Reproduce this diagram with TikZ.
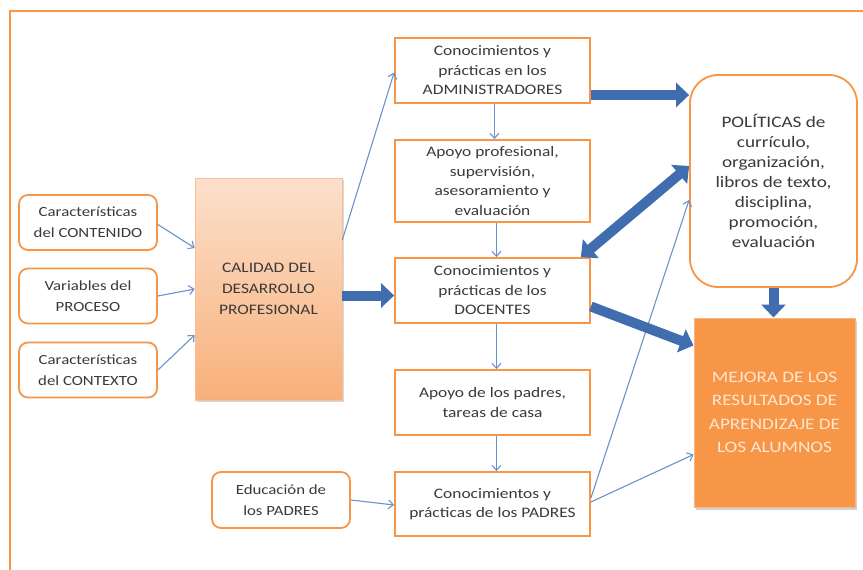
\documentclass[tikz,border=0pt]{standalone}
\usepackage{fontspec}
\setmainfont{Carlito}[FakeStretch=1.2]
\usetikzlibrary{arrows.meta,shadows}
\definecolor{obor}{HTML}{F79646}
\definecolor{thinc}{HTML}{6A93CB}
\definecolor{thickc}{HTML}{3F6DB0}
\definecolor{txt}{HTML}{3A3A3A}
\definecolor{calTop}{HTML}{FCE0CC}
\definecolor{calBot}{HTML}{F8B07A}
\definecolor{mejfill}{HTML}{F79646}
\definecolor{mejtxt}{HTML}{FDE6D4}
\begin{document}
\begin{tikzpicture}[x=1pt,y=-1pt,
  box/.style={draw=obor, line width=1.8pt, fill=white, text=txt, align=center, inner sep=2pt},
  lbox/.style={box, rounded corners=9pt, minimum width=138pt, minimum height=55pt, font=\fontsize{14}{21}\selectfont},
  mbox/.style={box, minimum width=195pt, minimum height=65pt, font=\fontsize{14.5}{19.5}\selectfont},
  thinarr/.style={draw=thinc, line width=1.1pt, -{Straight Barb[length=5pt,width=9pt]}},
  thickarr/.style={draw=thickc, line width=10pt, -{Triangle[length=13pt,width=24pt]}},
  dthickarr/.style={draw=thickc, line width=10pt, {Triangle[length=13pt,width=24pt]}-{Triangle[length=13pt,width=24pt]}}
]
\useasboundingbox (0,0) rectangle (863,570);
\fill[white] (0,0) rectangle (863,570);
% outer frame
\draw[obor, line width=2pt] (868,11) -- (10,11) -- (10,575);

% left boxes
\node[lbox] (cont) at (88,222.5) {Características\\del CONTENIDO};
\node[lbox] (proc) at (88,296) {Variables del\\PROCESO};
\node[lbox] (ctx) at (88,370) {Características\\del CONTEXTO};

% calidad
\node[draw=calBot!80!white, line width=0.6pt, top color=calTop, bottom color=calBot,
      minimum width=147pt, minimum height=222pt, align=center, text=txt,
      font=\fontsize{14.5}{21}\selectfont,
      drop shadow={shadow xshift=2pt, shadow yshift=-2pt, opacity=0.3}]
      (cal) at (268.5,289) {CALIDAD DEL\\DESARROLLO\\PROFESIONAL};

% middle column
\node[mbox] (adm) at (492.5,70.5) {Conocimientos y\\prácticas en los\\ADMINISTRADORES};
\node[mbox, minimum height=82pt] (apo) at (492.5,181) {Apoyo profesional,\\supervisión,\\asesoramiento y\\evaluación};
\node[mbox] (doc) at (492.5,290.5) {Conocimientos y\\prácticas de los\\DOCENTES};
\node[mbox] (apa) at (492.5,402.5) {Apoyo de los padres,\\tareas de casa};
\node[mbox, minimum height=64pt] (cpa) at (492.5,504) {Conocimientos y\\prácticas de los PADRES};

% educacion
\node[lbox, minimum height=56pt] (edu) at (281,500) {Educación de\\los PADRES};

% politicas
\node[box, rounded corners=28pt, minimum width=167pt, minimum height=212pt,
      font=\fontsize{16}{20}\selectfont] (pol) at (773.5,181)
      {POLÍTICAS de\\currículo,\\organización,\\libros de texto,\\disciplina,\\promoción,\\evaluación};

% mejora
\node[fill=mejfill, draw=mejfill!70!white, line width=1pt, minimum width=161pt, minimum height=189pt,
      text=mejtxt, align=center, font=\fontsize{16}{23.5}\selectfont,
      drop shadow={shadow xshift=2pt, shadow yshift=-3pt, opacity=0.35}]
      (mej) at (774.5,412.5) {MEJORA DE LOS\\RESULTADOS DE\\APRENDIZAJE DE\\LOS ALUMNOS};

% thin arrows
\draw[thinarr] ([yshift=-2pt]cont.east) -- ([yshift=41pt]cal.west);
\draw[thinarr] (proc.east) -- (cal.west);
\draw[thinarr] (ctx.east) -- ([yshift=-46pt]cal.west);
\draw[thinarr] ([yshift=49pt]cal.east) -- ([yshift=-2pt]adm.west);
\draw[thinarr] ([xshift=2pt]adm.south) -- ([xshift=2pt]apo.north);
\draw[thinarr] ([xshift=4pt]apo.south) -- ([xshift=4pt]doc.north);
\draw[thinarr] ([xshift=4pt]doc.south) -- ([xshift=4pt]apa.north);
\draw[thinarr] ([xshift=4pt]apa.south) -- ([xshift=4pt]cpa.north);
\draw[thinarr] (edu.east) -- ([yshift=-1pt]cpa.west);
\draw[thinarr] ([yshift=6pt]cpa.east) -- ([yshift=-19pt]pol.west);
\draw[thinarr] ([yshift=2pt]cpa.east) -- ([yshift=-42pt]mej.west);

% thick arrows
\coordinate (c1) at ([yshift=-6.5pt]cal.east);
\draw[thickarr] (c1) -- (c1 -| doc.west);
\coordinate (a1) at ([yshift=-24.5pt]adm.east);
\draw[thickarr] (a1) -- (a1 -| pol.west);
\draw[dthickarr] ([xshift=-10pt]doc.north east) -- ([yshift=15pt]pol.west);
\draw[thickarr] ([yshift=-16pt]doc.east) -- ([yshift=67pt]mej.west);
\draw[thickarr] (pol.south) -- (pol.south |- mej.north);
\end{tikzpicture}
\end{document}
